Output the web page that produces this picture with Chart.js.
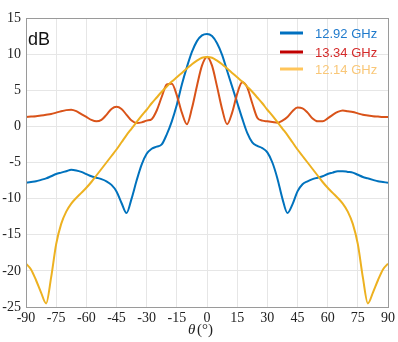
<!DOCTYPE html>
<html>
<head>
<meta charset="utf-8">
<script src="https://cdn.jsdelivr.net/npm/chart.js@4/dist/chart.umd.min.js"></script>
<style>
  html, body { margin:0; padding:0; background:#fff; }
  #wrap { width:398px; height:342px; }
</style>
</head>
<body>
<div id="wrap"><canvas id="c" width="398" height="342"></canvas></div>
<script>
// angle samples (deg)
const theta = [-90,-87.5,-85,-82.5,-80,-77.5,-75,-72.5,-70,-67.5,-65,-62.5,-60,-57.5,-55,-52.5,-50,-47.5,-45,-42.5,-40,-37.5,-35,-32.5,-30,-27.5,-25,-22.5,-20,-17.5,-15,-12.5,-10,-7.5,-5,-2.5,0,
  2.5,5,7.5,10,12.5,15,17.5,20,22.5,25,27.5,30,32.5,35,37.5,40,42.5,45,47.5,50,52.5,55,57.5,60,62.5,65,67.5,70,72.5,75,77.5,80,82.5,85,87.5,90];

// 12.92 GHz
const blueDb = [-7.8,-7.7,-7.6,-7.4,-7.2,-6.9,-6.6,-6.4,-6.2,-6.0,-6.1,-6.3,-6.6,-6.9,-7.1,-7.3,-7.6,-8.1,-9.0,-10.6,-12.0,-10.0,-7.5,-5.3,-3.8,-3.1,-2.8,-2.5,-1.1,0.7,3.0,5.8,8.2,10.3,11.8,12.6,12.8,
  12.5,11.5,9.9,7.7,5.5,3.3,1.1,-0.9,-2.2,-2.7,-3.0,-3.6,-5.0,-7.2,-10.0,-12.0,-10.8,-9.0,-8.0,-7.6,-7.3,-7.1,-6.9,-6.6,-6.4,-6.2,-6.2,-6.3,-6.4,-6.7,-7.0,-7.2,-7.4,-7.6,-7.7,-7.8];

// 13.34 GHz
const redDb = [1.3,1.35,1.4,1.5,1.6,1.7,1.9,2.1,2.25,2.3,2.1,1.7,1.3,0.9,0.7,0.9,1.6,2.4,2.7,2.4,1.6,0.8,0.45,0.55,0.8,1.0,2.2,4.1,5.8,5.9,4.3,1.9,0.3,2.5,5.6,8.4,9.6,
  8.4,5.5,2.4,0.3,1.9,4.5,6.1,5.4,3.2,1.2,0.8,0.7,0.6,0.5,0.8,1.3,2.1,2.6,2.5,1.9,1.1,0.7,0.7,1.1,1.6,2.0,2.2,2.1,2.0,1.8,1.6,1.5,1.4,1.35,1.3,1.3];

// 12.14 GHz
const yellowDb = [-19.0,-19.8,-21.3,-23.0,-24.5,-20.9,-16.3,-13.5,-11.8,-10.7,-9.9,-9.2,-8.5,-7.7,-6.8,-5.9,-5.0,-4.1,-3.2,-2.2,-1.2,-0.3,0.6,1.5,2.3,3.2,4.0,4.8,5.5,6.2,6.8,7.4,8.0,8.6,9.1,9.5,9.6,
  9.5,9.1,8.6,8.0,7.4,6.8,6.2,5.5,4.8,4.0,3.2,2.3,1.5,0.6,-0.3,-1.2,-2.2,-3.2,-4.1,-5.0,-5.9,-6.8,-7.7,-8.5,-9.2,-9.9,-10.7,-11.8,-13.5,-16.3,-20.9,-24.5,-23.0,-21.3,-19.8,-19.0];

const seriesNames = ['12.92 GHz','13.34 GHz','12.14 GHz'];
const lineColors = ['#0072BD','#D95319','#EDB120'];
const legendLineColors = ['#0070C0','#C00000','#FFC55A'];
const legendTextColors = ['#1F7ACC','#D42A2A','#F9C778'];

function pts(vals){ return theta.map((t,i)=>({x:t,y:vals[i]})); }

const serif = "'Liberation Serif', 'DejaVu Serif', serif";
const sans = "'Liberation Sans', Arial, sans-serif";

const decor = {
  id:'decor',
  afterDraw(chart){
    const ctx = chart.ctx, a = chart.chartArea;
    ctx.save();
    // box
    ctx.strokeStyle = '#9a9a9a';
    ctx.lineWidth = 1;
    ctx.strokeRect(Math.round(a.left)+0.5, Math.round(a.top)+0.5, Math.round(a.right-a.left), Math.round(a.bottom-a.top));
    // dB label
    ctx.fillStyle = '#111';
    ctx.font = '18px ' + sans;
    ctx.textBaseline = 'alphabetic';
    ctx.textAlign = 'left';
    ctx.fillText('dB', 28, 45);
    // legend
    const ys = [33, 52, 69];
    ctx.font = '13px ' + sans;
    ctx.textBaseline = 'middle';
    for(let i=0;i<3;i++){
      ctx.strokeStyle = legendLineColors[i];
      ctx.lineWidth = 3;
      ctx.beginPath();
      ctx.moveTo(280, ys[i]); ctx.lineTo(303, ys[i]);
      ctx.stroke();
      ctx.fillStyle = legendTextColors[i];
      ctx.fillText(seriesNames[i], 315, ys[i]+1);
    }
    // x title
    ctx.fillStyle = '#222';
    ctx.textBaseline = 'alphabetic';
    ctx.font = 'italic 15px ' + serif;
    ctx.fillText('\u03B8', 188, 334);
    ctx.font = '15px ' + serif;
    ctx.fillText('(\u00B0)', 197, 334);
    ctx.restore();
  }
};

new Chart(document.getElementById('c'), {
  type:'scatter',
  data:{
    datasets:[
      {label:seriesNames[0], data:pts(blueDb), borderColor:lineColors[0], order:2},
      {label:seriesNames[1], data:pts(redDb), borderColor:lineColors[1], order:1},
      {label:seriesNames[2], data:pts(yellowDb), borderColor:lineColors[2], order:0}
    ].map(d=>Object.assign(d,{showLine:true, pointRadius:0, borderWidth:2, cubicInterpolationMode:'monotone', fill:false}))
  },
  options:{
    responsive:false,
    animation:false,
    layout:{padding:{top:18, right:6, left:0, bottom:0}},
    plugins:{legend:{display:false}, tooltip:{enabled:false}},
    scales:{
      x:{
        type:'linear', min:-90, max:90,
        afterFit(s){ s.height = 35; },
        ticks:{stepSize:15, padding:3, color:'#222', font:{family:serif, size:14}},
        grid:{color:'#e6e6e6', drawTicks:false},
        border:{display:false}
      },
      y:{
        min:-25, max:15,
        afterFit(s){ s.width = 26; },
        ticks:{stepSize:5, padding:5, color:'#222', font:{family:serif, size:14}},
        grid:{color:'#e6e6e6', drawTicks:false},
        border:{display:false}
      }
    }
  },
  plugins:[decor]
});
</script>
</body>
</html>
